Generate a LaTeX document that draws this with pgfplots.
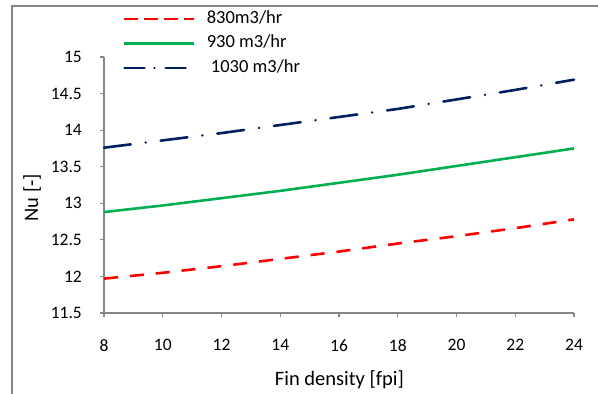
\documentclass[border=0pt]{standalone}
\usepackage{pgfplots}
\pgfplotsset{compat=1.18}
\usepackage{fontspec}
\setmainfont{Carlito}
\definecolor{xlred}{HTML}{FF0000}
\definecolor{xlgreen}{HTML}{00B050}
\definecolor{xlnavy}{HTML}{002060}
\definecolor{axgray}{HTML}{868686}
\begin{document}
\begin{tikzpicture}
\path[use as bounding box] (0,0) rectangle (598bp,394bp);
\draw[axgray, line width=2bp] (12bp,0) -- (12bp,388bp) -- (598bp,388bp);
\begin{axis}[
  at={(104bp,81bp)}, anchor=south west,
  scale only axis, width=470bp, height=256bp,
  xmin=8, xmax=24, ymin=11.5, ymax=15,
  xtick={8,10,...,24}, ytick={11.5,12,...,15},
  axis x line*=bottom, axis y line*=left,
  axis line style={axgray, line width=1.2bp},
  every tick/.style={axgray, line width=1.2bp},
  tick align=outside, major tick length=4bp,
  /pgf/number format/assume math mode=true,
  tick label style={font=\fontsize{17.5bp}{20bp}\selectfont, inner sep=0pt},
  yticklabel style={xshift=-18bp},
  xticklabel style={yshift=-22bp},
  xlabel={Fin density [fpi]},
  ylabel={Nu [-]},
  label style={font=\fontsize{20.5bp}{24bp}\selectfont},
  xlabel style={at={(axis description cs:0.501,-0.262)}, anchor=center},
  ylabel style={at={(axis description cs:-0.153,0.45)}, anchor=center},
  clip=false,
  legend style={at={(axis description cs:0.0404,1.18)}, anchor=north west,
    draw=none, fill=none, inner sep=0pt,
    font=\fontsize{18.5bp}{21bp}\selectfont,
    nodes={inner sep=0pt, text height=12bp, text depth=4bp},
    row sep=8.5bp, column sep=11bp},
  legend cell align=left,
  legend image code/.code={\draw[#1] (0bp,0bp) -- (70bp,0bp);},
]
\addlegendimage{xlred, line width=2.6bp, dash pattern=on 14bp off 6bp}
\addlegendentry{830m3/hr}
\addlegendimage{xlgreen, line width=2.6bp}
\addlegendentry{930 m3/hr}
\addlegendimage{xlnavy, line width=2.6bp, line cap=round, dash pattern=on 20bp off 10bp on 0.1bp off 11bp}
\addlegendentry{\ 1030 m3/hr}
\addplot[xlred, line width=2.6bp, dash pattern=on 14bp off 12bp, forget plot] coordinates {
(8,11.97) (10,12.05) (12,12.14) (14,12.24) (16,12.34) (18,12.45) (20,12.55) (22,12.66) (24,12.78)};
\addplot[xlgreen, line width=2.6bp, forget plot] coordinates {
(8,12.88) (10,12.97) (12,13.07) (14,13.17) (16,13.28) (18,13.39) (20,13.51) (22,13.63) (24,13.75)};
\addplot[xlnavy, line width=2.6bp, line cap=round, dash pattern=on 27bp off 15bp on 0.1bp off 15bp, forget plot] coordinates {
(8,13.76) (10,13.86) (12,13.96) (14,14.07) (16,14.18) (18,14.29) (20,14.42) (22,14.55) (24,14.69)};
\end{axis}
\end{tikzpicture}
\end{document}
